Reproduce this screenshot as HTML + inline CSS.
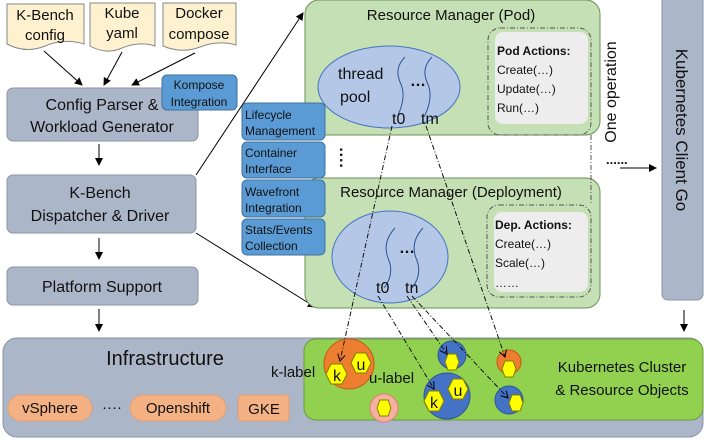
<!DOCTYPE html>
<html><head><meta charset="utf-8"><style>
body{margin:0;background:#fff;}
svg{display:block;font-family:"Liberation Sans",sans-serif;}
</style></head><body>
<svg width="704" height="441" viewBox="0 0 704 441" xmlns="http://www.w3.org/2000/svg">
<defs>
<marker id="ar" markerWidth="8" markerHeight="8" refX="7" refY="4" orient="auto" markerUnits="userSpaceOnUse"><path d="M0,0 L8,4 L0,8 z" fill="#000"/></marker>
<marker id="oa" markerWidth="8" markerHeight="8" refX="7" refY="4" orient="auto" markerUnits="userSpaceOnUse"><path d="M0,0 L7,4 L0,8" fill="none" stroke="#000"/></marker>
</defs>
<g fill="#fdf1cf" stroke="#888" stroke-width="1">
<path d="M7,4 H84 V44 Q64,38 45,46 Q26,54 7,44 Z"/>
<path d="M90,3 H155 V46 Q139,41 122,48 Q106,55 90,46 Z"/>
<path d="M163,3 H236 V45 Q218,40 200,47 Q182,54 163,46 Z"/>
</g>
<g font-size="15" text-anchor="middle" fill="#111">
<text x="45" y="20">K-Bench</text><text x="45" y="40">config</text>
<text x="122" y="18">Kube</text><text x="122" y="38">yaml</text>
<text x="199" y="18">Docker</text><text x="199" y="39">compose</text>
</g>
<g stroke="#000" stroke-width="1" fill="none" marker-end="url(#ar)">
<line x1="44" y1="51" x2="82" y2="85"/>
<line x1="122" y1="52" x2="104" y2="85"/>
<line x1="195" y1="53" x2="132" y2="85"/>
<line x1="99" y1="144" x2="99" y2="165"/>
<line x1="99" y1="238" x2="99" y2="259"/>
<line x1="99" y1="309" x2="99" y2="331"/>
<line x1="684" y1="310" x2="684" y2="331"/>
<line x1="620" y1="168" x2="656" y2="168"/>
<line x1="196" y1="175" x2="303" y2="13"/>
<line x1="196" y1="233" x2="315" y2="307"/>
</g>
<g fill="#acb6c9" stroke="#8a94a8">
<rect x="7" y="88" width="191" height="53" rx="6"/>
<rect x="7" y="175" width="189" height="58" rx="6"/>
<rect x="7" y="267" width="191" height="38" rx="6"/>
<rect x="3" y="338" width="700" height="99" rx="14"/>
</g>
<g font-size="16" text-anchor="middle" fill="#111">
<text x="102" y="110">Config Parser &amp;</text>
<text x="102" y="132">Workload Generator</text>
<text x="100" y="198">K-Bench</text>
<text x="100" y="221">Dispatcher &amp; Driver</text>
<text x="102" y="292">Platform Support</text>
<text x="165" y="365" font-size="20">Infrastructure</text>
</g>
<rect x="162" y="75" width="75" height="35" rx="5" fill="#5b9bd5" stroke="#41719c"/>
<text x="199" y="89" font-size="12" text-anchor="middle" fill="#111">Kompose</text>
<text x="199" y="106" font-size="12" text-anchor="middle" fill="#111">Integration</text>
<g fill="#f4b183" stroke="#e0a070">
<rect x="8" y="395" width="84" height="26" rx="13"/>
<rect x="130" y="395" width="96" height="26" rx="13"/>
<rect x="238" y="395" width="51" height="26" rx="4"/>
</g>
<g font-size="15" text-anchor="middle" fill="#111">
<text x="50" y="413">vSphere</text><text x="112" y="412">····</text>
<text x="178" y="413">Openshift</text><text x="264" y="414">GKE</text>
</g>
<rect x="304" y="339" width="399" height="81" rx="12" fill="#92d050" stroke="#6a9a3a"/>
<g font-size="15" text-anchor="middle" fill="#111">
<text x="622" y="372">Kubernetes Cluster</text>
<text x="622" y="395">&amp; Resource Objects</text>
</g>
<rect x="305" y="0" width="295" height="135" rx="14" fill="#c5e0b4" stroke="#6d8f5a"/>
<rect x="305" y="178" width="295" height="130" rx="14" fill="#c5e0b4" stroke="#6d8f5a"/>
<text x="451" y="20" font-size="15" text-anchor="middle" fill="#111">Resource Manager (Pod)</text>
<text x="451" y="197" font-size="15" text-anchor="middle" fill="#111">Resource Manager (Deployment)</text>
<rect x="495" y="32" width="93" height="92" rx="8" fill="#ededed"/>
<rect x="488" y="28" width="103" height="107" rx="12" fill="none" stroke="#555" stroke-dasharray="5,2,1,2"/>
<rect x="494" y="212" width="94" height="80" rx="8" fill="#ededed"/>
<rect x="487" y="205" width="104" height="92" rx="12" fill="none" stroke="#555" stroke-dasharray="5,2,1,2"/>
<g font-size="12" fill="#111">
<text x="497" y="55" font-weight="bold">Pod Actions:</text>
<text x="497" y="74">Create(…)</text><text x="497" y="93">Update(…)</text><text x="497" y="112">Run(…)</text>
<text x="495" y="229" font-weight="bold">Dep. Actions:</text>
<text x="495" y="248">Create(…)</text><text x="495" y="267">Scale(…)</text><text x="495" y="287">……</text>
</g>
<line x1="591" y1="135" x2="591" y2="205" stroke="#555" stroke-dasharray="5,2,1,2"/>
<ellipse cx="389" cy="87" rx="71" ry="41" fill="#b4c7e7" stroke="#4472c4"/>
<ellipse cx="390" cy="257" rx="58" ry="46" fill="#b4c7e7" stroke="#4472c4"/>
<g fill="none" stroke="#2f5597" stroke-width="1">
<path d="M405,57 Q394,68 400,82 Q407,96 398,115"/>
<path d="M432,57 Q421,68 427,82 Q434,96 425,115"/>
<path d="M395,228 Q382,242 388,258 Q395,274 384,288"/>
<path d="M423,228 Q410,242 416,258 Q423,274 412,288"/>
</g>
<g font-size="16" fill="#111">
<text x="338" y="79">thread</text><text x="340" y="102">pool</text>
<text x="410" y="86" font-weight="bold">…</text>
<text x="392" y="124">t0</text><text x="421" y="124">tm</text>
<text x="399" y="253" font-weight="bold">…</text>
<text x="376" y="293">t0</text><text x="405" y="293">tn</text>
</g>
<g fill="#5b9bd5" stroke="#41719c">
<rect x="242" y="103" width="83" height="37" rx="5"/>
<rect x="242" y="142" width="83" height="36" rx="5"/>
<rect x="242" y="180" width="83" height="37" rx="5"/>
<rect x="242" y="219" width="83" height="36" rx="5"/>
</g>
<g font-size="12" fill="#111">
<text x="245" y="119">Lifecycle</text><text x="245" y="135">Management</text>
<text x="245" y="157">Container</text><text x="245" y="173">Interface</text>
<text x="245" y="196">Wavefront</text><text x="245" y="212">Integration</text>
<text x="245" y="234">Stats/Events</text><text x="245" y="250">Collection</text>
</g>
<text x="343" y="165" font-size="16" font-weight="bold" text-anchor="middle" fill="#111" transform="rotate(90 343 158)">····</text>
<rect x="662" y="-6" width="41" height="306" rx="6" fill="#acb6c9" stroke="#8a94a8"/>
<text x="676" y="130" font-size="17" text-anchor="middle" fill="#111" transform="rotate(90 676 130)">Kubernetes  Client Go</text>
<text x="616" y="92" font-size="16" text-anchor="middle" fill="#111" transform="rotate(-90 616 92)">One  operation</text>
<text x="606" y="164" font-size="13" font-weight="bold" fill="#111">......</text>
<circle cx="349" cy="364" r="25" fill="#ed7d31" stroke="#c55a11"/>
<circle cx="384" cy="408" r="14" fill="#f4b1a0" stroke="#e08070"/>
<circle cx="452" cy="355" r="14" fill="#4472c4" stroke="#2f5597"/>
<circle cx="447" cy="396" r="23" fill="#4472c4" stroke="#2f5597"/>
<circle cx="509" cy="362" r="12" fill="#ed7d31" stroke="#c55a11"/>
<circle cx="509" cy="400" r="14" fill="#4472c4" stroke="#2f5597"/>
<g fill="#ffff00" stroke="#7f7f00">
<polygon points="331,364 342,364 347,374 342,384 331,384 326,374"/>
<polygon points="356,353 366,353 371,363 366,373 356,373 351,363"/>
<polygon points="380,400 388,400 391,408 388,416 380,416 377,408"/>
<polygon points="448,354 456,354 459,362 456,370 448,370 445,362"/>
<polygon points="429,391 439,391 444,401 439,411 429,411 424,401"/>
<polygon points="453,379 463,379 468,389 463,399 453,399 448,389"/>
<polygon points="505,361 513,361 516,369 513,377 505,377 502,369"/>
<polygon points="512,395 520,395 523,403 520,411 512,411 509,403"/>
</g>
<g font-size="16" fill="#111" text-anchor="middle">
<text x="337" y="381">k</text><text x="361" y="370">u</text>
<text x="434" y="408">k</text><text x="458" y="396">u</text>
</g>
<g font-size="15" fill="#111">
<text x="271" y="377">k-label</text><text x="369" y="383">u-label</text>
</g>
<g stroke="#111" stroke-width="1" fill="none" stroke-dasharray="5,2,1,2" marker-end="url(#oa)">
<line x1="392" y1="126" x2="340" y2="361"/>
<line x1="426" y1="126" x2="505" y2="357"/>
<line x1="378" y1="296" x2="434" y2="389"/>
<line x1="407" y1="296" x2="447" y2="354"/>
<line x1="412" y1="296" x2="508" y2="398"/>
</g>
</svg>
</body></html>
